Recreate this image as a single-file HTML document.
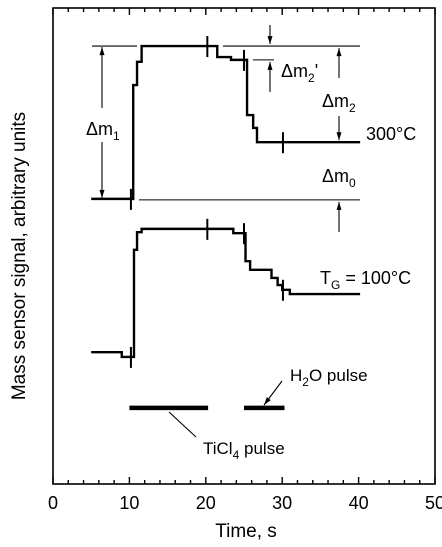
<!DOCTYPE html>
<html><head><meta charset="utf-8"><style>
html,body{margin:0;padding:0;background:#fff;}
svg{display:block;font-family:"Liberation Sans",Arial,sans-serif;}
</style></head><body>
<svg id="chart" width="442" height="547" viewBox="0 0 442 547" xmlns="http://www.w3.org/2000/svg">
<g id="plot"></g>
</svg>
<script>
const xTicks=[0,10,20,30,40,50];
const xTickLabels=["0","10","20","30","40","50"];
const topTimes=[5,10.5,11,11.6,21.5,23.3,25.4,26.2,26.7,40.2];
const topVals=[59.9,83.8,88.7,92,89.7,89.1,77.5,74.8,71.8,71.8];
const botTimes=[5,9,10.6,11,11.6,23.6,25.2,25.8,28.6,29.4,30,31,40.2];
const botVals=[27.7,26.7,49.2,52.9,53.6,52.7,46.8,45.0,43.3,41.8,40.8,39.9,39.9];
const pulseMarks=[10.2,20.2,25,30.1];
const ticl4Pulse=[10,20.3];
const h2oPulse=[25,30.3];
const pulseLevel=16;

const L=53,R=435,T=8,B=484;
const X=t=>L+(t/50)*(R-L);
const Y=v=>B-(v/100)*(B-T);
const NS="http://www.w3.org/2000/svg";
const g=document.getElementById('plot');
function mk(tag,attrs,parent){const e=document.createElementNS(NS,tag);for(const k in attrs)e.setAttribute(k,attrs[k]);(parent||g).appendChild(e);return e;}

const fr=mk('rect',{x:L,y:T,width:R-L,height:B-T,fill:'none',stroke:'#000','stroke-width':1.6});


for(let t=0;t<=50;t+=2){
  const major=(t%10===0);const len=major?7:4;
  const a=mk('line',{x1:X(t),x2:X(t),y1:B,y2:B-len,stroke:'#000','stroke-width':1.4});
  
  
  const b=mk('line',{x1:X(t),x2:X(t),y1:T,y2:T+len,stroke:'#000','stroke-width':1.4});
  
  
}
xTicks.forEach((t,i)=>{
  const tx=mk('text',{x:X(t),y:509,'font-size':18,'text-anchor':'middle'});
  tx.textContent=xTickLabels[i];
  
  
});
const xt=mk('text',{x:246,y:537,'font-size':19,'text-anchor':'middle'});xt.textContent='Time, s';


const yt=mk('text',{x:0,y:0,'font-size':19,'text-anchor':'middle',transform:'translate(25,256) rotate(-90)'});yt.textContent='Mass sensor signal, arbitrary units';



function stepPath(ts,vs){let d='M'+X(ts[0])+','+Y(vs[0]);for(let i=1;i<ts.length;i++){d+=' H'+X(ts[i])+' V'+Y(vs[i]);}return d;}
function valAt(ts,vs,t){let v=vs[0];for(let i=0;i<ts.length;i++){if(ts[i]<=t)v=vs[i];}return v;}
const s1=mk('path',{d:stepPath(topTimes,topVals),fill:'none',stroke:'#000','stroke-width':2.4});


const s2=mk('path',{d:stepPath(botTimes,botVals),fill:'none',stroke:'#000','stroke-width':2.4});


[[topTimes,topVals],[botTimes,botVals]].forEach(([ts,vs])=>{
  pulseMarks.forEach(t=>{const y=Y(valAt(ts,vs,t));
    const m=mk('line',{x1:X(t),x2:X(t),y1:y-10,y2:y+11,stroke:'#000','stroke-width':2});
    
    
  });
});
const p1=mk('line',{x1:X(ticl4Pulse[0]),x2:X(ticl4Pulse[1]),y1:Y(pulseLevel),y2:Y(pulseLevel),stroke:'#000','stroke-width':4.5});


const p2=mk('line',{x1:X(h2oPulse[0]),x2:X(h2oPulse[1]),y1:Y(pulseLevel),y2:Y(pulseLevel),stroke:'#000','stroke-width':4.5});



function ln(x1,y1,x2,y2,name,arrow){const e=mk('line',{x1,y1,x2,y2,stroke:'#000','stroke-width':1.1});
  if(arrow){const dx=x2-x1,dy=y2-y1,l=Math.hypot(dx,dy),ux=dx/l,uy=dy/l,px=-uy,py=ux,h=8,w=2.5;
    const pg=mk('polygon',{points:`${x2},${y2} ${x2-ux*h+px*w},${y2-uy*h+py*w} ${x2-ux*h-px*w},${y2-uy*h-py*w}`,fill:'#000'});
    }
  return e;}
ln(196,437,169,412,'ticl4-pointer');
ln(282,381,264,405,'h2o-pointer',true);

const yTop=Y(topVals[3]),yBase=Y(topVals[0]),yEnd=Y(topVals[8]),yMid=Y(topVals[5]);
ln(92,yTop,137,yTop,'ref-line-top-left');
ln(223,yTop,360,yTop,'ref-line-top-right');
ln(139,yBase+1,360,yBase+1,'ref-line-base');
ln(253,yMid,274,yMid,'ref-line-dm2prime');
ln(102,108,102,yTop+1,'dm1-arrow-up',true);
ln(102,142,102,yBase-1,'dm1-arrow-down',true);
ln(270,25,270,yTop-2,'dm2prime-arrow-down',true);
ln(270,92,270,yMid+2,'dm2prime-arrow-up',true);
ln(339,78,339,yTop+2,'dm2-arrow-up',true);
ln(339,116,339,yEnd-2,'dm2-arrow-down',true);
ln(339,232,339,yBase+3,'dm0-arrow-up',true);

function label(x,y,main,sub,after,size,name){const t=mk('text',{x,y,'font-size':size||18});
  
  const a=document.createElementNS(NS,'tspan');a.textContent=main;t.appendChild(a);
  if(sub){const s=document.createElementNS(NS,'tspan');s.setAttribute('font-size',12);s.setAttribute('dy',5);s.textContent=sub;t.appendChild(s);}
  if(after){const s=document.createElementNS(NS,'tspan');s.setAttribute('dy',sub?-5:0);s.textContent=after;t.appendChild(s);}
  return t;}
label(86,135,'Δm','1','',18,'dm1-label');
label(281,77,'Δm','2',"'",18,'dm2prime-label');
label(322,107,'Δm','2','',18,'dm2-label');
label(322,182,'Δm','0','',18,'dm0-label');
const l3=mk('text',{x:366,y:140,'font-size':18});l3.textContent='300°C';


label(320,284,'T','G',' = 100°C',18,'label-100c');
label(290,381,'H','2','O pulse',17,'h2o-pulse-label');
label(203,454,'TiCl','4',' pulse',17,'ticl4-pulse-label');
</script>
</body></html>
